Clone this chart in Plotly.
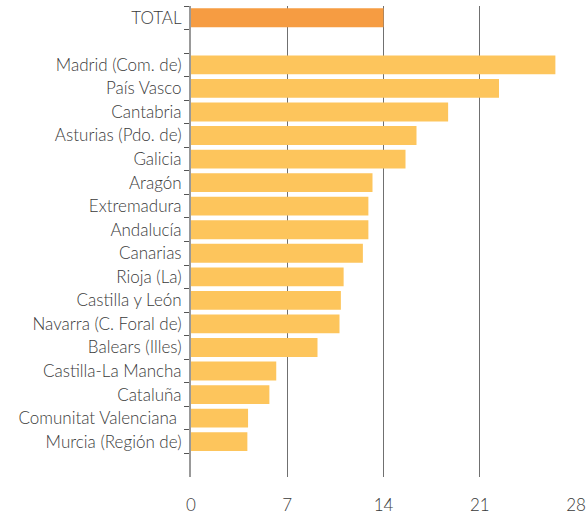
import plotly.graph_objects as go

categories = ["TOTAL", " ", "Madrid (Com. de)", "País Vasco", "Cantabria", "Asturias (Pdo. de)",
              "Galicia", "Aragón", "Extremadura", "Andalucía", "Canarias", "Rioja (La)",
              "Castilla y León", "Navarra (C. Foral de)", "Balears (Illes)", "Castilla-La Mancha",
              "Cataluña", "Comunitat Valenciana\u00a0", "Murcia (Región de)", "  "]
values = [14.0, None, 26.5, 22.4, 18.7, 16.4, 15.6, 13.2, 12.9, 12.9, 12.5, 11.1, 10.9, 10.8,
          9.2, 6.2, 5.7, 4.15, 4.1, None]
colors = ["#F69C42"] + ["#FDC55C"] * (len(categories) - 1)
x_ticks = [0, 7, 14, 21, 28]

fig = go.Figure(go.Bar(
    x=values, y=categories, orientation="h",
    marker=dict(color=colors, line=dict(width=0)),
    width=0.8, hoverinfo="x+y",
))

font_fam = "Lato, sans-serif"
fig.update_layout(
    width=587, height=515,
    margin=dict(l=191, r=11, t=6, b=38),
    paper_bgcolor="white", plot_bgcolor="white",
    font=dict(family=font_fam, size=17, color="#3a3a3a", weight=300),
    showlegend=False,
    bargap=0.2,
)
fig.update_xaxes(
    range=[0, 28], tickvals=x_ticks, showgrid=True, gridcolor="#707070", gridwidth=1,
    zeroline=False, showline=False, ticks="outside", ticklen=13, tickcolor="rgba(0,0,0,0)",
    tickfont=dict(family=font_fam, size=17, color="#3a3a3a", weight=300), automargin=False,
)
fig.update_yaxes(
    categoryorder="array", categoryarray=categories, autorange="reversed",
    type="category", tickson="boundaries", ticks="outside", ticklen=5, tickcolor="#555",
    showline=True, linecolor="#999", linewidth=2, showgrid=False,
    tickfont=dict(family=font_fam, size=17, color="#3a3a3a", weight=300), automargin=False,
    ticklabelstandoff=4,
)

fig.write_html("out.html", config={"displayModeBar": False},
               post_script="document.body.style.margin='0';document.body.style.padding='0';")
